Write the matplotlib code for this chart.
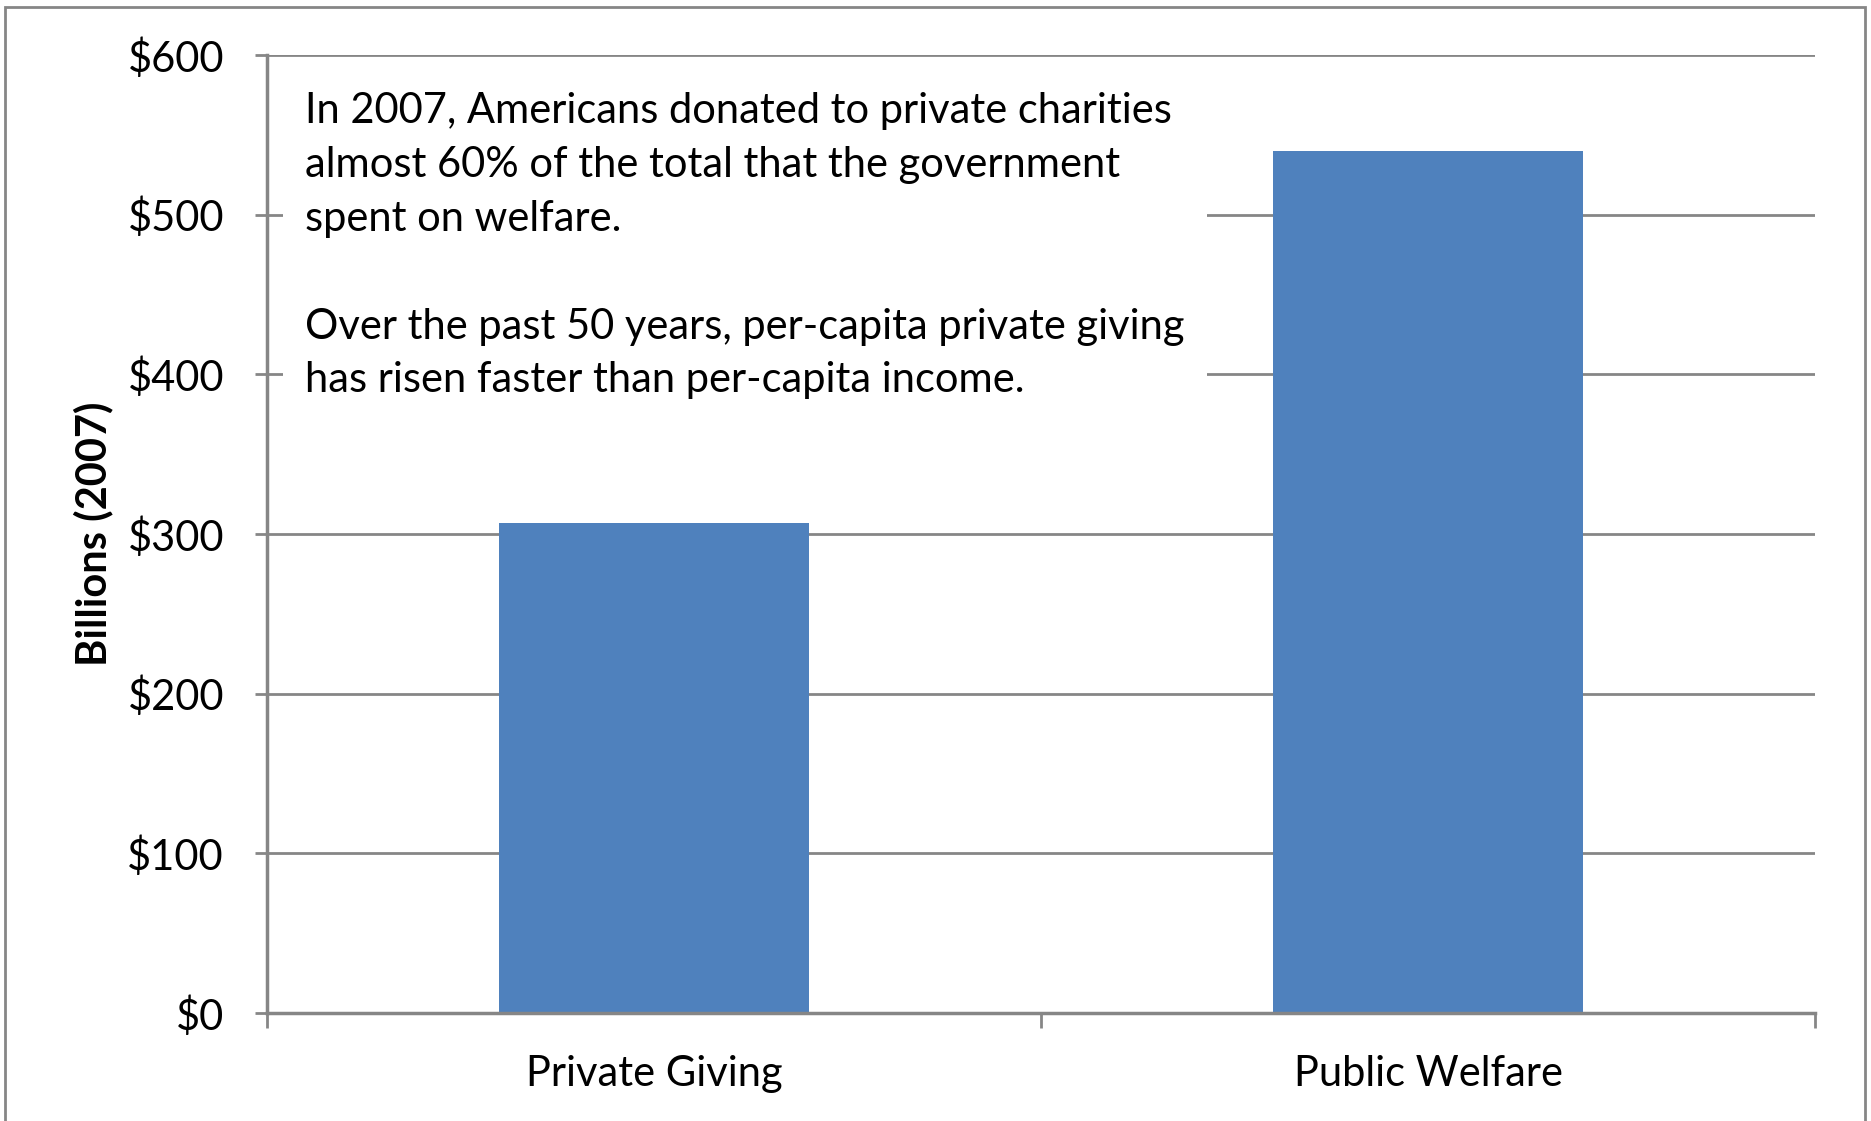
import numpy as np
import matplotlib
matplotlib.use('Agg')
import matplotlib.pyplot as plt
from matplotlib.patches import Rectangle

plt.rcParams['font.family'] = ['Lato', 'DejaVu Sans']

categories = ['Private Giving', 'Public Welfare']
values = [307, 540]
yticks = [0, 100, 200, 300, 400, 500, 600]
ytick_labels = ['$0', '$100', '$200', '$300', '$400', '$500', '$600']
ylabel = 'Billions (2007)'
note = ('In 2007, Americans donated to private charities\n'
        'almost 60% of the total that the government\n'
        'spent on welfare.\n'
        '\n'
        'Over the past 50 years, per-capita private giving\n'
        'has risen faster than per-capita income.')

grid_col = '#868686'
bar_col = '#4f81bd'
fs = 30

fig = plt.figure(figsize=(18.71, 11.21), dpi=100)
fig.patches.append(Rectangle((5 / 1871, -0.05), 1860 / 1871, 1.05 - 7 / 1121,
                             transform=fig.transFigure, fill=False,
                             edgecolor=grid_col, linewidth=2))

ax = fig.add_axes([267 / 1871, 108 / 1121, 1548 / 1871, 958 / 1121])
x = np.arange(len(categories))
ax.bar(x, values, width=0.4, color=bar_col, zorder=3)
ax.set_xlim(-0.5, len(categories) - 0.5)
ax.set_ylim(0, 600)

ax.set_yticks(yticks)
ax.set_yticklabels(ytick_labels, fontsize=fs)
ax.yaxis.grid(True, color=grid_col, linewidth=2, zorder=0)
ax.set_axisbelow(True)
ax.tick_params(axis='y', length=9, width=2, color=grid_col, direction='out', pad=22)

ax.set_xticks(x)
ax.set_xticklabels(categories, fontsize=fs)
ax.tick_params(axis='x', length=0, pad=30)
ax.set_xticks([-0.5, 0.5, 1.5], minor=True)
ax.tick_params(axis='x', which='minor', length=11, width=2, color=grid_col, direction='out')

for s in ('top', 'right'):
    ax.spines[s].set_visible(False)
for s in ('left', 'bottom'):
    ax.spines[s].set_color(grid_col)
    ax.spines[s].set_linewidth(2.5)
    ax.spines[s].set_zorder(4)

ax.set_ylabel(ylabel, fontsize=fs, fontweight='bold', labelpad=10)

# white note box over the gridlines
ax.add_patch(Rectangle((0.0103, 0.605), 0.597, 0.38, transform=ax.transAxes,
                       facecolor='white', edgecolor='none', zorder=2))
ax.text(0.0245, 0.961, note, transform=ax.transAxes, fontsize=fs,
        va='top', ha='left', linespacing=1.51, zorder=5)

fig.savefig('out.png', dpi=100)
